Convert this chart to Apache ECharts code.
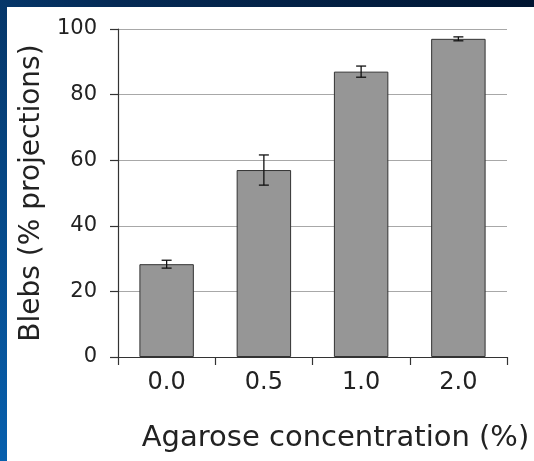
<!DOCTYPE html>
<html>
<head>
<meta charset="utf-8">
<script src="https://cdn.jsdelivr.net/npm/echarts@6/dist/echarts.min.js"></script>
<style>
  html, body { margin: 0; padding: 0; background: #0b2a52; }
  #chart { width: 534px; height: 461px; }
</style>
</head>
<body>
<div id="chart"></div>
<script>
// Agarose concentration (%) categories
const categories = ['0.0', '0.5', '1.0', '2.0'];
// Blebs as % of projections (bar heights)
const blebPct = [28.3, 57.0, 87.0, 97.0];
// Error bar half-widths
const errHalf = [1.2, 4.6, 1.7, 0.6];
// Y axis tick values
const yTicks = [0, 20, 40, 60, 80, 100];

const FONT = 'DejaVu Sans';
const chart = echarts.init(document.getElementById('chart'), null, { renderer: 'canvas' });

const errData = categories.map((c, i) => [i, blebPct[i] - errHalf[i], blebPct[i] + errHalf[i]]);

chart.setOption({
  animation: false,
  graphic: [
    {
      type: 'rect', z: -10, silent: true,
      shape: { x: 0, y: 0, width: 534, height: 461 },
      style: {
        fill: new echarts.graphic.LinearGradient(1, 0, 0, 1, [
          { offset: 0, color: '#001531' },
          { offset: 0.45, color: '#052a55' },
          { offset: 1, color: '#0760ae' }
        ])
      }
    },
    {
      type: 'rect', z: -9, silent: true,
      shape: { x: 7, y: 7, width: 527, height: 454 },
      style: { fill: '#ffffff' }
    }
  ],
  grid: { left: 118, top: 29, right: 27, bottom: 104, containLabel: false },
  xAxis: {
    type: 'category',
    data: categories,
    boundaryGap: true,
    name: 'Agarose concentration (%)',
    nameLocation: 'middle',
    nameGap: 67,
    nameTextStyle: { fontFamily: FONT, fontSize: 29, color: '#222', padding: [0, 0, 0, 46] },
    axisLine: { show: true, lineStyle: { color: '#333', width: 1.2 } },
    axisTick: { show: true, alignWithLabel: false, length: 8, lineStyle: { color: '#333', width: 1.2 } },
    axisLabel: { fontFamily: FONT, fontSize: 24, color: '#222', margin: 14 },
    splitLine: { show: false }
  },
  yAxis: {
    type: 'value',
    min: yTicks[0],
    max: yTicks[yTicks.length - 1],
    interval: yTicks[1] - yTicks[0],
    name: 'Blebs (% projections)',
    nameLocation: 'middle',
    nameGap: 72,
    nameTextStyle: { fontFamily: FONT, fontSize: 28, color: '#222' },
    axisLine: { show: true, lineStyle: { color: '#333', width: 1.2 } },
    axisTick: { show: true, inside: false, length: 8, lineStyle: { color: '#333', width: 1.2 } },
    axisLabel: { fontFamily: FONT, fontSize: 21, color: '#222', margin: 21 },
    splitLine: { show: true, lineStyle: { color: '#a8a8a8', width: 1 } }
  },
  series: [
    {
      type: 'bar',
      data: blebPct,
      barWidth: '56%',
      itemStyle: { color: '#969696', borderColor: '#333333', borderWidth: 1 }
    },
    {
      type: 'custom',
      data: errData,
      z: 10,
      renderItem: function (params, api) {
        const x = api.value(0);
        const lo = api.coord([x, api.value(1)]);
        const hi = api.coord([x, api.value(2)]);
        const cap = 5;
        const st = { stroke: '#111', lineWidth: 1.3 };
        return {
          type: 'group',
          children: [
            { type: 'line', shape: { x1: hi[0], y1: hi[1], x2: lo[0], y2: lo[1] }, style: st },
            { type: 'line', shape: { x1: hi[0] - cap, y1: hi[1], x2: hi[0] + cap, y2: hi[1] }, style: st },
            { type: 'line', shape: { x1: lo[0] - cap, y1: lo[1], x2: lo[0] + cap, y2: lo[1] }, style: st }
          ]
        };
      }
    }
  ]
});
</script>
</body>
</html>
